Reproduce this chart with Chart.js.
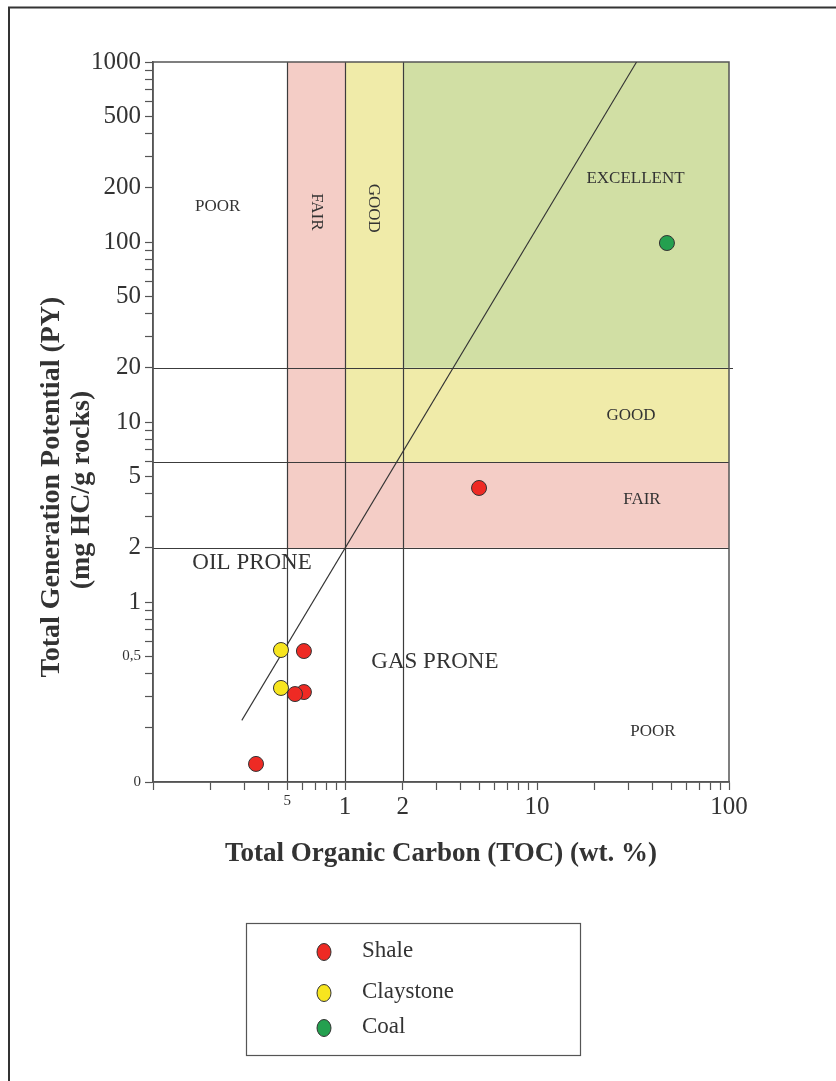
<!DOCTYPE html>
<html><head><meta charset="utf-8">
<script src="https://cdn.jsdelivr.net/npm/chart.js@4.4.1/dist/chart.umd.min.js"></script>
<style>html,body{margin:0;padding:0;background:#fff;} canvas{display:block;}</style>
</head><body>
<canvas id="c" width="836" height="1081"></canvas>
<script>
// ---- data ----
const seriesNames = ['Shale', 'Claystone', 'Coal'];
const shaleTOC = [4.99, 0.611, 0.611, 0.549, 0.344];
const shalePY  = [4.30, 0.534, 0.316, 0.308, 0.126];
const claystoneTOC = [0.464, 0.464];
const claystonePY  = [0.541, 0.333];
const coalTOC = [47.5];
const coalPY  = [98.7];
const boundaryTOC = [0.29, 33];
const boundaryPY  = [0.22, 1000];
const tocLimits = [0.5, 1, 2];
const pyLimits = [2, 6, 20];
const xTickValues = [0.1,0.2,0.3,0.4,0.5,0.6,0.7,0.8,0.9,1,2,3,4,5,6,7,8,9,10,20,30,40,50,60,70,80,90,100];
const xLabelValues = [0.5, 1, 2, 10, 100];
const xLabelTexts  = ['5', '1', '2', '10', '100'];
const yTickValues = [0.1,0.2,0.3,0.4,0.5,0.6,0.7,0.8,0.9,1,2,3,4,5,6,7,8,9,10,20,30,40,50,60,70,80,90,100,200,300,400,500,600,700,800,900,1000];
const yLabelValues = [0.1, 0.5, 1, 2, 5, 10, 20, 50, 100, 200, 500, 1000];
const yLabelTexts  = ['0', '0,5', '1', '2', '5', '10', '20', '50', '100', '200', '500', '1000'];
const xTitle = 'Total Organic Carbon (TOC) (wt. %)';
const yTitleLines = ['Total Generation Potential (PY)', '(mg HC/g rocks)'];

// zones in data coordinates
const zoneTOCFrom = [0.5, 0.5, 1, 2, 2];
const zoneTOCTo   = [1, 100, 2, 100, 100];
const zonePYFrom  = [2, 2, 6, 6, 20];
const zonePYTo    = [1000, 6, 1000, 20, 1000];
const zoneClass   = ['fair', 'fair', 'good', 'good', 'excellent'];

// zone captions (text, TOC, PY)
const captionTexts = ['POOR', 'FAIR', 'GOOD', 'EXCELLENT', 'GOOD', 'FAIR', 'POOR', 'OIL PRONE', 'GAS PRONE'];
const captionTOC   = [0.217, 0.707, 1.414, 32.6, 30.9, 35.2, 40.2, 0.328, 2.94];
const captionPY    = [158, 147, 154, 224, 10.8, 3.69, 0.19, 1.65, 0.464];

// ---- styles ----
const FONT = "'Liberation Serif', 'Times New Roman', serif";
const TEXT = '#333333';
const zoneColors = { fair: '#F4CDC6', good: '#F0EBA9', excellent: '#D1DFA4' };
const markerColors = ['#EE2A24', '#F7E51F', '#24A04F'];
const captionSize = [17, 17, 17, 17, 17, 17, 17, 23, 23];
const captionRot  = [false, true, true, false, false, false, false, false, false];

function labelFor(v, vals, texts) {
  for (let i = 0; i < vals.length; i++) {
    if (Math.abs(Math.log10(v) - Math.log10(vals[i])) < 1e-6) return texts[i];
  }
  return '';
}
function pts(xs, ys) { return xs.map((x, i) => ({ x: x, y: ys[i] })); }

const diagramPlugin = {
  id: 'diagram',
  beforeDatasetsDraw(chart) {
    const { ctx, chartArea: a, scales: { x, y } } = chart;
    ctx.save();
    for (let i = 0; i < zoneClass.length; i++) {
      const x0 = x.getPixelForValue(zoneTOCFrom[i]), x1 = x.getPixelForValue(zoneTOCTo[i]);
      const y0 = y.getPixelForValue(zonePYTo[i]), y1 = y.getPixelForValue(zonePYFrom[i]);
      ctx.fillStyle = zoneColors[zoneClass[i]];
      ctx.fillRect(x0, y0, x1 - x0, y1 - y0);
    }
    ctx.strokeStyle = '#3c3c3c';
    ctx.lineWidth = 1.2;
    ctx.beginPath();
    tocLimits.forEach(v => {
      const px = Math.round(x.getPixelForValue(v)) + 0.5;
      ctx.moveTo(px, a.top); ctx.lineTo(px, a.bottom);
    });
    pyLimits.forEach(v => {
      const py = Math.round(y.getPixelForValue(v)) + 0.5;
      ctx.moveTo(a.left, py); ctx.lineTo(a.right + (v === 20 ? 4 : 0), py);
    });
    ctx.stroke();
    ctx.strokeStyle = '#555';
    ctx.lineWidth = 1.5;
    ctx.strokeRect(a.left, a.top, a.right - a.left, a.bottom - a.top);
    ctx.fillStyle = TEXT;
    ctx.textAlign = 'center';
    ctx.textBaseline = 'middle';
    for (let i = 0; i < captionTexts.length; i++) {
      const px = x.getPixelForValue(captionTOC[i]), py = y.getPixelForValue(captionPY[i]);
      ctx.font = captionSize[i] + 'px ' + FONT;
      ctx.save();
      ctx.translate(px, py);
      if (captionRot[i]) ctx.rotate(Math.PI / 2);
      ctx.fillText(captionTexts[i], 0, 0);
      ctx.restore();
    }
    ctx.restore();
  },
  afterDraw(chart) {
    const { ctx } = chart;
    ctx.save();
    ctx.fillStyle = TEXT;
    ctx.font = 'bold 28px ' + FONT;
    ctx.textAlign = 'center';
    ctx.textBaseline = 'middle';
    const tx = [52, 82], ty = [487, 490];
    yTitleLines.forEach((t, i) => {
      ctx.save();
      ctx.translate(tx[i], ty[i]);
      ctx.rotate(-Math.PI / 2);
      ctx.fillText(t, 0, 0);
      ctx.restore();
    });
    ctx.strokeStyle = '#555';
    ctx.lineWidth = 1.2;
    ctx.strokeRect(246.5, 923.5, 334, 132);
    const rows = [952, 993, 1028];
    chart.data.datasets.slice(0, 3).forEach((ds, i) => {
      ctx.beginPath();
      ctx.ellipse(324, rows[i], 7, 8.5, 0, 0, Math.PI * 2);
      ctx.fillStyle = ds.backgroundColor;
      ctx.fill();
      ctx.strokeStyle = '#333';
      ctx.lineWidth = 1;
      ctx.stroke();
      ctx.fillStyle = TEXT;
      ctx.font = '23px ' + FONT;
      ctx.textAlign = 'left';
      ctx.textBaseline = 'middle';
      ctx.fillText(ds.label, 362, rows[i] - 1);
    });
    ctx.strokeStyle = '#333';
    ctx.lineWidth = 2;
    ctx.beginPath();
    ctx.moveTo(836, 7.5); ctx.lineTo(9, 7.5); ctx.lineTo(9, 1081);
    ctx.stroke();
    ctx.restore();
  }
};

const markerDataset = (i, xs, ys) => ({
  label: seriesNames[i],
  data: pts(xs, ys),
  backgroundColor: markerColors[i],
  borderColor: '#333',
  borderWidth: 1,
  pointRadius: 7.5,
  pointHoverRadius: 7.5
});

new Chart(document.getElementById('c'), {
  type: 'scatter',
  data: {
    datasets: [
      markerDataset(0, shaleTOC, shalePY),
      markerDataset(1, claystoneTOC, claystonePY),
      markerDataset(2, coalTOC, coalPY),
      {
        label: 'Oil / gas prone boundary',
        data: pts(boundaryTOC, boundaryPY),
        showLine: true,
        borderColor: '#333',
        borderWidth: 1.1,
        pointRadius: 0,
        fill: false
      }
    ]
  },
  options: {
    responsive: false,
    animation: false,
    layout: { padding: { left: 0, top: 62, right: 107, bottom: 209 } },
    plugins: { legend: { display: false }, tooltip: { enabled: false } },
    scales: {
      x: {
        type: 'logarithmic', min: 0.1, max: 100, position: 'bottom',
        afterBuildTicks: s => { s.ticks = xTickValues.map(v => ({ value: v })); },
        afterFit: s => { s.height = 90; },
        ticks: {
          autoSkip: false, maxRotation: 0, padding: 2, color: TEXT,
          callback: v => labelFor(v, xLabelValues, xLabelTexts),
          font: c => ({ family: FONT, size: (c.tick && Math.abs(c.tick.value - 0.5) < 1e-9) ? 15 : 25 })
        },
        grid: { drawOnChartArea: false, drawTicks: true, tickLength: 8, color: '#555', tickWidth: 1.2 },
        border: { display: true, color: '#555', width: 1.5 },
        title: { display: true, text: xTitle, color: TEXT, font: { family: FONT, size: 27, weight: 'bold' }, padding: { top: 0, bottom: 2 } }
      },
      y: {
        type: 'logarithmic', min: 0.1, max: 1000, position: 'left',
        afterBuildTicks: s => { s.ticks = yTickValues.map(v => ({ value: v })); },
        afterFit: s => { s.width = 153; },
        ticks: {
          autoSkip: false, padding: 4, color: TEXT,
          callback: v => labelFor(v, yLabelValues, yLabelTexts),
          font: c => ({ family: FONT, size: (c.tick && c.tick.value < 0.9) ? 15 : 25 })
        },
        grid: { drawOnChartArea: false, drawTicks: true, tickLength: 8, color: '#555', tickWidth: 1.2 },
        border: { display: true, color: '#555', width: 1.5 },
        title: { display: false, text: yTitleLines }
      }
    }
  },
  plugins: [diagramPlugin]
});
</script>
</body></html>
